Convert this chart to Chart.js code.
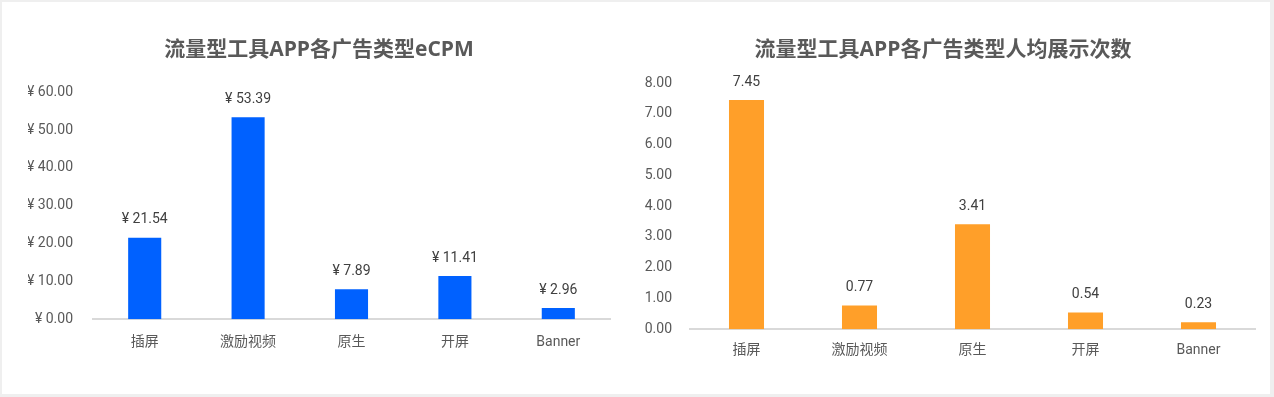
<!DOCTYPE html>
<html>
<head>
<meta charset="utf-8">
<script src="https://cdn.jsdelivr.net/npm/chart.js@4.4.1/dist/chart.umd.min.js"></script>
<style>
  html, body { margin: 0; padding: 0; background: #efefef; }
  body { width: 1274px; height: 397px; position: relative; overflow: hidden; }
  #card { position: absolute; left: 2px; top: 2px; width: 1268px; height: 392px; background: #fff; }
  .box { position: absolute; top: 0; height: 397px; }
  #left { left: 0; width: 630px; }
  #right { left: 630px; width: 644px; }
</style>
</head>
<body>
<div id="card"></div>
<div class="box" id="left"><canvas id="ecpm"></canvas></div>
<div class="box" id="right"><canvas id="shows"></canvas></div>
<script>
  "use strict";

  // data
  const categories = ['插屏', '激励视频', '原生', '开屏', 'Banner'];
  const ecpmValues = [21.54, 53.39, 7.89, 11.41, 2.96];
  const showValues = [7.45, 0.77, 3.41, 0.54, 0.23];
  const ecpmTitle = '流量型工具APP各广告类型eCPM';
  const showTitle = '流量型工具APP各广告类型人均展示次数';

  const FONT = "Roboto, 'Noto Sans CJK SC', sans-serif";
  const TITLE_FONT = "'Open Sans', 'Noto Sans CJK SC', sans-serif";
  const yen = v => '¥ ' + v.toFixed(2);

  // small inline plugin: value above each bar
  const valueLabels = {
    id: 'valueLabels',
    afterDatasetsDraw(chart, args, opts) {
      const ctx = chart.ctx;
      const meta = chart.getDatasetMeta(0);
      ctx.save();
      ctx.font = '14px ' + FONT;
      ctx.fillStyle = '#404040';
      ctx.textAlign = 'center';
      ctx.textBaseline = 'middle';
      meta.data.forEach((bar, i) => {
        const v = chart.data.datasets[0].data[i];
        ctx.fillText(opts.fmt(v), bar.x, bar.y - opts.gap);
      });
      ctx.restore();
    }
  };

  function makeChart(id, cfg) {
    return new Chart(document.getElementById(id), {
      type: 'bar',
      data: {
        labels: categories,
        datasets: [{
          data: cfg.values,
          backgroundColor: cfg.color,
          borderWidth: 0,
          categoryPercentage: 1,
          barPercentage: cfg.barPct
        }]
      },
      options: {
        responsive: true,
        maintainAspectRatio: false,
        animation: false,
        layout: { padding: { left: cfg.padLeft, right: cfg.padRight, top: 0, bottom: cfg.padBottom } },
        plugins: {
          legend: { display: false },
          tooltip: { enabled: false },
          title: {
            display: true,
            text: cfg.title,
            color: '#595959',
            font: { family: TITLE_FONT, size: 21, weight: 'bold', lineHeight: 1.2 },
            padding: { top: 37, bottom: cfg.titleGap }
          },
          valueLabels: { fmt: cfg.fmt, gap: 18 }
        },
        scales: {
          x: {
            grid: { display: false, drawTicks: false },
            border: { display: true, color: '#d9d9d9', width: 2 },
            ticks: { color: '#595959', font: { family: FONT, size: 14 }, padding: cfg.xPad }
          },
          y: {
            min: 0,
            max: cfg.max,
            grid: { display: false, drawTicks: false },
            border: { display: false },
            ticks: {
              stepSize: cfg.step,
              color: '#595959',
              font: { family: FONT, size: 14 },
              padding: cfg.yPad,
              callback: v => cfg.fmt(v)
            },
            afterFit(scale) { scale.width = cfg.yWidth; }
          }
        }
      },
      plugins: [valueLabels]
    });
  }

  makeChart('ecpm', {
    values: ecpmValues, color: '#0061ff', barPct: 0.32, title: ecpmTitle,
    fmt: yen, max: 60, step: 10,
    padLeft: 28, padRight: 20, padBottom: 31, titleGap: 30,
    yWidth: 65, yPad: 20, xPad: 15
  });

  makeChart('shows', {
    values: showValues, color: '#ff9f29', barPct: 0.31, title: showTitle,
    fmt: v => v.toFixed(2), max: 8, step: 1,
    padLeft: 1, padRight: 19, padBottom: 25, titleGap: 21,
    yWidth: 59, yPad: 18, xPad: 13
  });
</script>
</body>
</html>
